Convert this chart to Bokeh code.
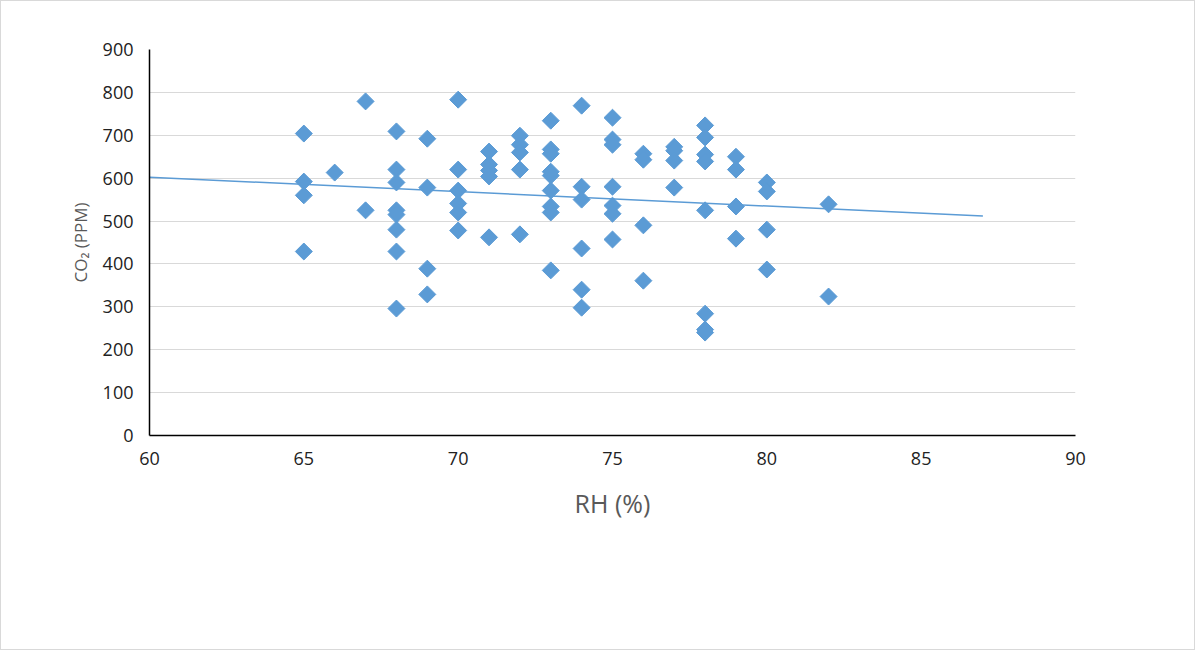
import numpy as np
from bokeh.plotting import figure
from bokeh.models import Range1d, FixedTicker
from bokeh.embed import file_html
from bokeh.resources import INLINE

rh = [65, 65, 65, 65, 66, 67, 67,
      68, 68, 68, 68, 68, 68, 68, 68,
      69, 69, 69, 69,
      70, 70, 70, 70, 70, 70,
      71, 71, 71, 71, 71,
      72, 72, 72, 72, 72,
      73, 73, 73, 73, 73, 73, 73, 73, 73,
      74, 74, 74, 74, 74, 74,
      75, 75, 75, 75, 75, 75, 75,
      76, 76, 76, 76,
      77, 77, 77, 77,
      78, 78, 78, 78, 78, 78, 78, 78,
      79, 79, 79, 79,
      80, 80, 80, 80,
      82, 82]
co2 = [704, 592, 560, 429, 613, 779, 525,
       709, 620, 590, 525, 515, 480, 429, 296,
       692, 578, 389, 329,
       783, 620, 571, 541, 520, 478,
       662, 632, 618, 604, 462,
       699, 678, 660, 620, 469,
       734, 667, 657, 615, 606, 571, 534, 520, 385,
       769, 580, 550, 436, 340, 298,
       741, 690, 678, 580, 536, 517, 457,
       657, 643, 490, 361,
       673, 664, 641, 578,
       723, 695, 655, 639, 525, 284, 247, 240,
       650, 620, 534, 459,
       590, 569, 480, 387,
       539, 324]
trend_x = [60, 87]

slope, icpt = np.polyfit(rh, co2, 1)
trend_y = [slope * t + icpt for t in trend_x]

p = figure(width=1195, height=650, output_backend="svg", toolbar_location=None,
           x_range=Range1d(60, 90), y_range=Range1d(0, 900),
           min_border_left=148, min_border_right=121,
           min_border_top=48, min_border_bottom=216)
p.outline_line_color = None
p.border_fill_color = "white"
p.styles = {"border": "1px solid #d9d9d9"}

p.xaxis.ticker = FixedTicker(ticks=list(range(60, 91, 5)))
p.yaxis.ticker = FixedTicker(ticks=list(range(0, 901, 100)))
for ax in (p.xaxis[0], p.yaxis[0]):
    ax.major_tick_line_color = None
    ax.minor_tick_line_color = None
    ax.axis_line_color = "black"
    ax.axis_line_width = 1.5
    ax.major_label_text_font = "Open Sans"
    ax.major_label_text_font_size = "18px"
    ax.major_label_text_color = "#222222"
    ax.axis_label_text_font = "Open Sans"
    ax.axis_label_text_font_style = "normal"
    ax.axis_label_text_color = "#595959"
p.xaxis.major_label_standoff = 10
p.yaxis.major_label_standoff = 10
p.xaxis.axis_label = "RH (%)"
p.xaxis.axis_label_text_font_size = "25px"
p.xaxis.axis_label_standoff = 18
p.yaxis.axis_label = "CO₂ (PPM)"
p.yaxis.axis_label_text_font_size = "17px"
p.yaxis.axis_label_standoff = 8

p.xgrid.grid_line_color = None
p.ygrid.grid_line_color = "#d9d9d9"

p.line(trend_x, trend_y, line_color="#5B9BD5", line_width=1.5)
p.scatter(rh, co2, marker="square", angle=np.pi / 4, size=12,
          fill_color="#5B9BD5", line_color="#5B9BD5")

open("out.html", "w").write(file_html(p, INLINE))
